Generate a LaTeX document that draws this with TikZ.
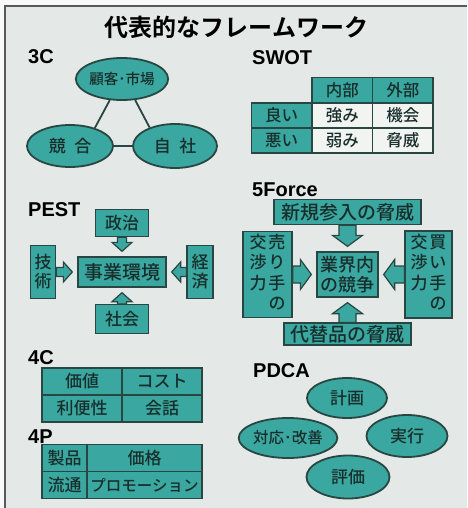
\documentclass[tikz,border=0pt]{standalone}
\usepackage{fontspec}
\setmainfont{Noto Sans CJK JP}[BoldFont={Noto Sans CJK JP Bold}]
\newfontfamily\boxfont{Noto Sans CJK JP Medium}
\newfontfamily\headfont{Liberation Sans}
\usetikzlibrary{calc,shapes.geometric}

\definecolor{paper}{RGB}{228,232,230}
\definecolor{tealfill}{RGB}{58,168,160}
\definecolor{inkline}{RGB}{40,70,66}
\definecolor{inktext}{RGB}{24,46,44}
\definecolor{cellwhite}{RGB}{242,244,242}

\tikzset{
  heading/.style={anchor=west, inner sep=0pt, font=\headfont\bfseries\fontsize{20}{20}\selectfont},
  oval/.style={ellipse, draw=inkline, line width=1.8pt, fill=tealfill, inner sep=0pt,
    text=inktext, minimum width=84pt, minimum height=42pt, font=\boxfont\fontsize{17}{20}\selectfont},
  tbox/.style={draw=inkline, line width=1.3pt, fill=tealfill, inner sep=0.5pt, text=inktext,
    align=center, font=\boxfont\fontsize{17}{20}\selectfont},
  wcell/.style={tbox, fill=cellwhite},
  blockarrow/.style={draw=inkline, line width=1.2pt, fill=tealfill, line join=miter},
  link/.style={draw=inkline, line width=1.8pt}
}

% fat arrow: from, to, half shaft, half head, head length
\newcommand\fatarrow[5]{%
  \coordinate (faTip) at ($(#2)!5pt!(#1)$);
  \coordinate (faNeck) at ($(faTip)!#5!(#1)$);
  \draw[blockarrow] ($(#1)!#3!90:(faTip)$) -- ($(faNeck)!#3!90:(faTip)$)
    -- ($(faNeck)!#4!90:(faTip)$) -- (faTip) -- ($(faNeck)!#4!-90:(faTip)$)
    -- ($(faNeck)!#3!-90:(faTip)$) -- ($(#1)!#3!-90:(faTip)$) -- cycle;
}

\begin{document}
\begin{tikzpicture}[x=1pt, y=-1pt]
  \useasboundingbox (0,0) rectangle (467,508);
  \fill[white!95!gray] (0,0) rectangle (467,508);
  \fill[paper] (5,6) rectangle (467,508);
  \draw[gray!70!black, line width=1.5pt] (5,508) -- (5,6) -- (467,6);

  \node[font=\bfseries\fontsize{24}{24}\selectfont, inner sep=0pt] (title) at (236.5,27) {代表的なフレームワーク};

  % 3C
  \node[heading] (h3c) at (28,57) {3C};
  \node[oval, font=\boxfont\fontsize{14.5}{16}\selectfont, minimum width=83pt] (cMkt) at (122,79) {顧客･市場};
  \node[oval, minimum width=86pt] (cRival) at (70,146) {競\hspace{0.5em}合};
  \node[oval, minimum height=44pt] (cSelf) at (175,146) {自\hspace{0.5em}社};
  \draw[link] (cMkt.240) -- (cRival.36);
  \draw[link] (cMkt.302) -- (cSelf.144);
  \draw[link] (cRival) -- (cSelf);

  % SWOT
  \node[heading] (hSwot) at (252,58) {SWOT};
  \foreach \n/\x/\y/\t/\s in
    {sIn/342.25/90/内部/tbox,
     sOut/402.75/90/外部/tbox,
     sGood/281.5/115.5/良い/tbox,
     sStr/342.25/115.5/強み/wcell,
     sOpp/402.75/115.5/機会/wcell,
     sBad/281.5/140.5/悪い/tbox,
     sWeak/342.25/140.5/弱み/wcell,
     sThr/402.75/140.5/脅威/wcell}
  {
    \node[\s, minimum width=60.5pt, minimum height=25pt, font=\boxfont\fontsize{16.5}{18}\selectfont] (\n) at (\x,\y) {\t};
  };

  % PEST
  \node[heading] (hPest) at (28,210) {PEST};
  \node[tbox, minimum width=53pt, minimum height=27pt] (pPol) at (122,223) {政治};
  \node[tbox, minimum width=88pt, minimum height=30pt, font=\boxfont\fontsize{19}{20}\selectfont] (pBiz) at (122,272) {事業環境};
  \node[tbox, minimum width=25pt, minimum height=53pt, font=\boxfont\fontsize{17}{19}\selectfont] (pTech) at (43,272) {技\\術};
  \node[tbox, minimum width=26pt, minimum height=53pt, font=\boxfont\fontsize{17}{19}\selectfont] (pEco) at (200,272) {経\\済};
  \node[tbox, minimum width=53pt, minimum height=29pt] (pSoc) at (122,319) {社会};
  \fatarrow{pPol.south}{pBiz.north}{4.5pt}{10pt}{9pt}
  \fatarrow{pTech.east}{pBiz.west}{4.5pt}{10pt}{9pt}
  \fatarrow{pEco.west}{pBiz.east}{4.5pt}{10pt}{9pt}
  \fatarrow{pSoc.north}{pBiz.south}{4.5pt}{10pt}{9pt}

  % 5Force
  \node[heading] (hForce) at (252,190) {5Force};
  \node[tbox, minimum width=147pt, minimum height=25pt, font=\boxfont\fontsize{19}{20}\selectfont] (fNew) at (347.5,212) {新規参入の脅威};
  \node[tbox, minimum width=61pt, minimum height=45pt, font=\boxfont\fontsize{18}{20}\selectfont] (fCore) at (347.5,274.5) {業界内\\の競争};
  \node[tbox, minimum width=49pt, minimum height=86pt, font=\boxfont\fontsize{17}{20}\selectfont] (fSup) at (267.5,274.5)
    {\begin{tabular}[t]{@{}c@{\hspace{2pt}}c@{}}交&売\\渉&り\\力&手\\&の\end{tabular}};
  \node[tbox, minimum width=47pt, minimum height=87pt, font=\boxfont\fontsize{17}{20}\selectfont] (fBuy) at (428.5,274.5)
    {\begin{tabular}[t]{@{}c@{\hspace{2pt}}c@{}}交&買\\渉&い\\力&手\\&の\end{tabular}};
  \node[tbox, minimum width=127pt, minimum height=22pt, font=\boxfont\fontsize{19}{20}\selectfont] (fSub) at (347.5,334) {代替品の脅威};
  \fatarrow{fNew.south}{fCore.north}{8.5pt}{15pt}{11pt}
  \fatarrow{fSup.east}{fCore.west}{8.5pt}{15pt}{11pt}
  \fatarrow{fBuy.west}{fCore.east}{8.5pt}{15pt}{11pt}
  \fatarrow{fSub.north}{fCore.south}{8.5pt}{15pt}{11pt}

  % 4C
  \node[heading] (h4c) at (28,358) {4C};
  \foreach \n/\x/\y/\t in
    {kVal/82/381.5/価値,
     kCost/162/381.5/コスト,
     kConv/82/408.5/利便性,
     kTalk/162/408.5/会話}
  {
    \node[tbox, minimum width=80pt, minimum height=27pt] (\n) at (\x,\y) {\t};
  };

  % 4P
  \node[heading] (h4p) at (28,437) {4P};
  \foreach \n/\x/\y/\w/\t in
    {mProd/64.5/458/45/製品,
     mPrice/144.5/458/115/価格,
     mPlace/64.5/485/45/流通,
     mPromo/144.5/485/115/{\fontsize{15.5}{18}\selectfont プロモーション}}
  {
    \node[tbox, minimum width=\w pt, minimum height=27pt] (\n) at (\x,\y) {\t};
  };

  % PDCA
  \node[heading] (hPdca) at (253,371) {PDCA};
  \node[oval, minimum width=80pt, minimum height=40pt] (dPlan) at (347,398) {計画};
  \node[oval, minimum width=80pt, minimum height=40pt, font=\boxfont\fontsize{15.5}{18}\selectfont] (dAct) at (288,438) {対応･改善};
  \node[oval, minimum width=81pt, minimum height=42pt] (dDo) at (407,436) {実行};
  \node[oval, minimum width=83pt, minimum height=43pt] (dChk) at (348,477) {評価};
\end{tikzpicture}
\end{document}
